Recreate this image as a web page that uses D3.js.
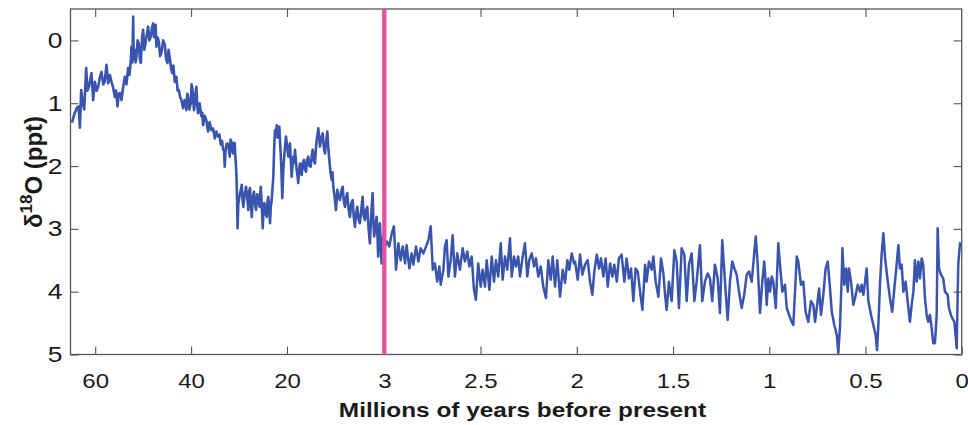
<!DOCTYPE html>
<html><head><meta charset="utf-8">
<script src="https://cdn.jsdelivr.net/npm/d3@7"></script>
<style>
html,body{margin:0;padding:0;background:#fff;}
svg{display:block;font-family:"Liberation Sans",Arial,Helvetica,sans-serif;}
</style></head>
<body>
<svg id="chart" width="968" height="425"></svg>
<script>
// ---- data (Myr before present, delta18O in ppt) ----
const leftAges = [64.85,64.38,63.85,63.48,63.19,62.92,62.60,62.29,61.88,61.60,61.31,60.77,60.42,60.06,59.69,59.38,59.06,58.69,58.33,58.02,57.65,57.29,56.94,56.60,56.25,55.90,55.63,55.35,55.10,54.85,54.52,54.17,53.81,53.48,53.13,52.85,52.56,52.44,52.25,52.08,51.96,51.77,51.56,51.40,51.15,50.90,50.69,50.48,50.21,50.00,49.75,49.52,49.23,48.96,48.69,48.40,48.17,47.92,47.75,47.56,47.40,47.23,46.98,46.73,46.46,46.19,45.83,45.48,45.21,44.94,44.69,44.44,44.17,43.96,43.69,43.40,43.06,42.81,42.56,42.29,42.02,41.67,41.35,40.98,40.79,40.63,40.35,40.06,39.90,39.73,39.54,39.38,39.10,38.90,38.71,38.54,38.23,37.85,37.67,37.50,37.17,36.81,36.63,36.46,36.13,35.77,35.42,35.06,34.73,34.38,34.08,33.81,33.54,33.33,33.13,32.98,32.81,32.60,32.44,32.19,31.94,31.77,31.60,31.42,31.25,31.04,30.90,30.73,30.56,30.42,30.31,30.15,29.94,29.69,29.44,29.27,29.10,28.83,28.54,28.29,28.06,27.88,27.71,27.52,27.35,27.13,26.88,26.67,26.46,26.21,25.98,25.73,25.48,25.27,25.06,24.90,24.73,24.48,24.23,24.06,23.90,23.71,23.54,23.38,23.19,23.02,22.85,22.67,22.50,22.33,22.15,21.98,21.79,21.60,21.46,21.31,21.15,20.98,20.79,20.63,20.42,20.21,19.97,19.77,19.62,19.48,19.34,19.18,19.04,18.90,18.74,18.60,18.46,18.31,18.17,18.03,17.87,17.73,17.59,17.43,17.24,17.03,16.86,16.68,16.47,16.28,16.07,15.86,15.69,15.51,15.32,15.11,14.97,14.81,14.67,14.53,14.38,14.24,14.01,13.77,13.57,13.36,13.15,12.96,12.79,12.61,12.40,12.19,12.05,11.91,11.67,11.44,11.21,10.97,10.74,10.52,10.27,10.08,9.87,9.66,9.47,9.22,9.00,8.77,8.53,8.34,8.13,7.92,7.73,7.49,7.26,7.03,6.79,6.60,6.38,6.18,5.98,5.74,5.52,5.29,5.04,4.90,4.76,4.55,4.34,4.20,4.06,3.91,3.77,3.59,3.47,3.33,3.19,3.00];
const leftVals = [1.31,1.18,1.08,1.05,1.39,0.79,1.00,1.10,0.44,0.80,0.74,0.52,0.95,0.66,0.80,0.74,0.60,0.50,0.70,0.66,0.39,0.68,0.55,0.66,0.75,0.90,0.80,1.05,0.85,0.84,0.95,0.74,0.58,0.70,0.44,0.55,0.31,0.10,0.35,-0.38,0.30,0.15,0.35,0.26,0.00,0.05,0.30,0.36,-0.05,-0.17,0.15,0.05,-0.10,-0.22,0.00,-0.06,-0.20,-0.27,-0.05,-0.06,-0.25,0.10,-0.05,0.02,0.25,0.20,0.00,0.07,0.30,0.36,0.15,0.28,0.45,0.52,0.40,0.66,0.58,0.80,0.79,0.90,0.95,1.08,0.95,1.11,0.85,0.90,1.10,1.00,0.70,0.76,1.00,1.11,0.85,0.74,1.05,1.16,1.00,1.21,1.15,1.35,1.20,1.27,1.38,1.45,1.30,1.43,1.40,1.56,1.45,1.53,1.50,1.66,1.60,1.74,1.75,2.01,1.75,1.65,1.64,1.70,1.85,1.58,1.61,1.75,1.80,1.63,1.64,1.90,2.11,2.50,2.99,2.60,2.49,2.40,2.30,2.55,2.65,2.45,2.33,2.50,2.70,2.40,2.35,2.60,2.81,2.50,2.41,2.60,2.70,2.45,2.49,2.65,2.33,2.60,2.99,2.70,2.59,2.75,2.81,2.55,2.49,2.70,2.91,2.65,2.54,2.35,2.17,1.70,1.43,1.50,1.35,1.55,1.42,1.37,1.60,1.80,2.10,2.51,2.10,1.90,1.70,1.53,1.70,1.85,1.70,1.64,1.90,2.17,2.00,1.85,1.95,1.74,1.90,2.06,2.15,2.27,2.05,1.96,2.10,2.14,1.95,1.90,2.05,2.09,1.90,1.85,2.00,2.01,1.85,1.74,1.90,1.96,1.75,1.58,1.50,1.40,1.55,1.69,1.55,1.48,1.70,1.80,1.60,1.45,1.70,1.90,2.10,2.22,2.10,2.33,2.50,2.70,2.38,2.50,2.54,2.40,2.33,2.55,2.65,2.50,2.43,2.70,2.81,2.60,2.54,2.80,2.97,2.75,2.65,2.85,2.91,2.70,2.49,2.80,2.86,2.70,2.65,3.00,3.23,2.80,2.43,2.90,3.12,2.95,2.81,3.10,3.44,3.10,2.91,3.30,3.55,3.30,3.12,3.30];
const rightAges = [3.000,2.987,2.974,2.961,2.950,2.939,2.927,2.915,2.904,2.892,2.884,2.870,2.858,2.849,2.835,2.823,2.811,2.797,2.783,2.771,2.759,2.748,2.737,2.725,2.714,2.707,2.693,2.685,2.676,2.667,2.655,2.645,2.633,2.621,2.607,2.593,2.581,2.569,2.558,2.546,2.534,2.524,2.512,2.499,2.489,2.477,2.468,2.454,2.442,2.430,2.420,2.408,2.395,2.385,2.373,2.361,2.347,2.338,2.326,2.316,2.304,2.295,2.281,2.269,2.257,2.247,2.234,2.222,2.212,2.200,2.187,2.174,2.160,2.148,2.135,2.125,2.113,2.101,2.087,2.073,2.061,2.049,2.039,2.026,2.014,2.009,1.995,1.983,1.971,1.957,1.943,1.931,1.919,1.909,1.896,1.884,1.874,1.862,1.850,1.839,1.827,1.815,1.805,1.792,1.781,1.767,1.753,1.741,1.729,1.718,1.706,1.694,1.683,1.671,1.659,1.645,1.637,1.625,1.611,1.602,1.590,1.576,1.562,1.550,1.541,1.533,1.521,1.507,1.493,1.481,1.469,1.455,1.441,1.429,1.417,1.403,1.389,1.377,1.360,1.348,1.334,1.320,1.308,1.296,1.282,1.268,1.256,1.244,1.230,1.216,1.204,1.192,1.181,1.169,1.157,1.143,1.130,1.117,1.105,1.091,1.078,1.070,1.060,1.048,1.036,1.026,1.021,1.013,1.005,0.996,0.987,0.979,0.966,0.953,0.944,0.932,0.918,0.909,0.897,0.883,0.875,0.866,0.857,0.849,0.835,0.823,0.811,0.797,0.783,0.771,0.762,0.753,0.741,0.731,0.719,0.707,0.696,0.684,0.675,0.662,0.649,0.641,0.632,0.623,0.620,0.610,0.601,0.592,0.586,0.575,0.563,0.554,0.540,0.528,0.520,0.511,0.502,0.494,0.485,0.471,0.459,0.447,0.440,0.433,0.424,0.416,0.407,0.398,0.384,0.373,0.361,0.350,0.338,0.329,0.321,0.312,0.303,0.291,0.281,0.269,0.260,0.251,0.243,0.234,0.225,0.217,0.208,0.200,0.191,0.182,0.174,0.165,0.156,0.148,0.139,0.130,0.125,0.118,0.108,0.096,0.087,0.073,0.066,0.056,0.049,0.038,0.026,0.018,0.009,0.000];
const rightVals = [3.30,3.20,3.28,3.07,2.96,3.65,3.23,3.50,3.28,3.55,3.26,3.63,3.39,3.57,3.28,3.52,3.31,3.39,3.28,3.18,2.96,3.65,3.55,3.84,3.60,3.89,3.65,3.28,3.18,3.76,3.50,3.10,3.76,3.39,3.65,3.31,3.52,3.36,3.60,3.44,3.97,4.13,3.55,3.92,3.65,3.92,3.50,3.97,3.44,3.84,3.50,3.76,3.23,3.81,3.44,3.65,3.15,3.76,3.44,3.60,3.44,3.76,3.44,3.23,3.76,3.50,3.39,3.60,3.47,3.76,3.60,3.92,4.10,3.50,3.81,3.44,3.92,3.50,4.08,3.65,3.86,3.50,3.65,3.39,3.55,3.52,3.81,3.41,3.73,3.57,3.50,3.84,4.05,3.68,3.41,3.63,3.47,3.76,3.47,3.92,3.55,3.76,3.57,3.84,3.47,3.41,3.84,3.47,3.79,3.63,4.15,3.63,3.68,4.00,4.29,3.57,3.84,3.52,3.65,3.44,3.84,4.08,3.47,3.71,4.05,4.29,3.84,4.15,3.34,3.52,4.26,3.31,3.41,4.15,3.57,3.39,4.15,3.84,3.26,4.15,3.84,3.71,3.79,4.15,3.57,3.79,4.34,3.18,3.84,4.45,3.84,3.52,3.63,3.73,4.00,4.26,4.05,3.73,3.68,3.84,3.39,3.12,3.57,4.34,3.84,3.52,3.73,4.21,3.79,4.00,3.76,3.84,4.26,3.23,3.57,4.00,3.89,4.26,4.37,4.48,4.53,4.00,3.44,3.52,3.89,3.84,4.32,4.48,4.15,4.21,4.48,4.26,3.95,4.37,4.05,3.63,3.52,3.95,4.32,4.53,4.69,4.98,4.53,3.73,3.31,3.89,3.63,4.00,3.63,3.84,4.21,4.10,3.89,4.00,3.89,4.05,3.84,3.63,4.15,4.37,4.53,4.69,4.93,4.53,3.84,3.41,3.07,3.47,3.84,4.10,4.32,3.95,3.57,3.26,3.63,3.57,4.00,3.84,4.15,4.48,4.21,4.00,3.50,3.84,3.52,3.79,3.47,3.57,4.10,4.37,4.48,4.37,4.58,4.82,4.82,4.37,2.99,3.63,3.73,3.79,4.00,4.05,4.26,4.37,4.42,4.48,4.90,3.57,3.23,3.26];
const leftTicks = [60, 40, 20];
const rightTicks = [3, 2.5, 2, 1.5, 1, 0.5, 0];
const yTicks = [0, 1, 2, 3, 4, 5];
const xTitle = "Millions of years before present";

// ---- layout ----
const L = 70.5, R = 961.7, T = 9, B = 354.5, J = 384.3;
const svg = d3.select("#chart");
const xL = d3.scaleLinear().domain([65.15, 20, 3]).range([L, 287, J]);
const xR = d3.scaleLinear().domain([3, 0]).range([J, R]);
const y = d3.scaleLinear().domain([-0.5, 5]).range([T, B]);
const axisCol = "#555", textCol = "#1a1a1a", SX = 1.2;

svg.append("defs").append("clipPath").attr("id","clip")
  .append("rect").attr("x",L).attr("y",T).attr("width",R-L).attr("height",B-T);

const g = svg.append("g").attr("clip-path","url(#clip)");
const leftData = leftAges.map((a,i)=>[a,leftVals[i]]);
const rightData = rightAges.map((a,i)=>[a,rightVals[i]]);
const lineL = d3.line().x(d=>xL(d[0])).y(d=>y(d[1]));
const lineR = d3.line().x(d=>xR(d[0])).y(d=>y(d[1]));
const blue = "#3a55ad";
g.append("path").datum(leftData).attr("d",lineL).attr("fill","none")
  .attr("stroke",blue).attr("stroke-width",2.6).attr("stroke-linejoin","round");
g.append("path").datum(rightData).attr("d",lineR).attr("fill","none")
  .attr("stroke",blue).attr("stroke-width",2.5).attr("stroke-linejoin","round");

// axes
function styleAxis(sel, labels, fs){
  sel.select(".domain").remove();
  sel.selectAll(".tick line").attr("stroke",axisCol).attr("stroke-width",1.1);
  if(!labels) sel.selectAll(".tick text").remove();
  else sel.selectAll(".tick text").attr("fill",textCol).attr("font-size",fs)
        .attr("font-family","Liberation Sans, Arial, sans-serif");
}
const fmt = d => String(d);
svg.append("g").attr("transform",`translate(0,${B})`)
  .call(d3.axisBottom(xL).tickValues(leftTicks).tickSize(-8).tickPadding(19).tickFormat(fmt))
  .call(s=>styleAxis(s,true,20));
svg.append("g").attr("transform",`translate(0,${B})`)
  .call(d3.axisBottom(xR).tickValues(rightTicks).tickSize(-8).tickPadding(19).tickFormat(fmt))
  .call(s=>styleAxis(s,true,20));
svg.append("g").attr("transform",`translate(0,${T})`)
  .call(d3.axisTop(xL).tickValues(leftTicks).tickSize(-8)).call(s=>styleAxis(s,false));
svg.append("g").attr("transform",`translate(0,${T})`)
  .call(d3.axisTop(xR).tickValues(rightTicks.slice(1,-1)).tickSize(-8)).call(s=>styleAxis(s,false));
svg.append("g").attr("transform",`translate(${L},0)`)
  .call(d3.axisLeft(y).tickValues(yTicks).tickSize(-8).tickPadding(8).tickFormat(fmt))
  .call(s=>styleAxis(s,true,22));
svg.append("g").attr("transform",`translate(${R},0)`)
  .call(d3.axisRight(y).tickValues(yTicks).tickSize(-8)).call(s=>styleAxis(s,false));

// stretch tick labels horizontally (reference text is wide)
svg.selectAll(".tick text").each(function(){
  const t = d3.select(this);
  const xx = +t.attr("x") || 0;
  t.attr("transform",`translate(${xx*(1-SX)},0) scale(${SX},1)`);
});

// frame
svg.append("rect").attr("x",L).attr("y",T).attr("width",R-L).attr("height",B-T)
  .attr("fill","none").attr("stroke",axisCol).attr("stroke-width",1.3);

// marker at 3 Myr
svg.append("line").attr("x1",xR(3)).attr("x2",xR(3)).attr("y1",T).attr("y2",B)
  .attr("stroke","#e4529f").attr("stroke-width",4.3);

// titles
const cx = 522.5;
svg.append("text").attr("transform",`translate(${cx},417) scale(1.22,1)`)
  .attr("text-anchor","middle").attr("font-size",20).attr("font-weight","bold")
  .attr("fill",textCol).text(xTitle);
const yl = svg.append("text").attr("transform","translate(42,172) rotate(-90)")
  .attr("text-anchor","middle").attr("font-size",24).attr("font-weight","bold")
  .attr("fill",textCol);
yl.append("tspan").text("δ");
yl.append("tspan").attr("font-size",17).attr("dy",-10).text("18");
yl.append("tspan").attr("dy",10).text("O (ppt)");
</script>
</body></html>
